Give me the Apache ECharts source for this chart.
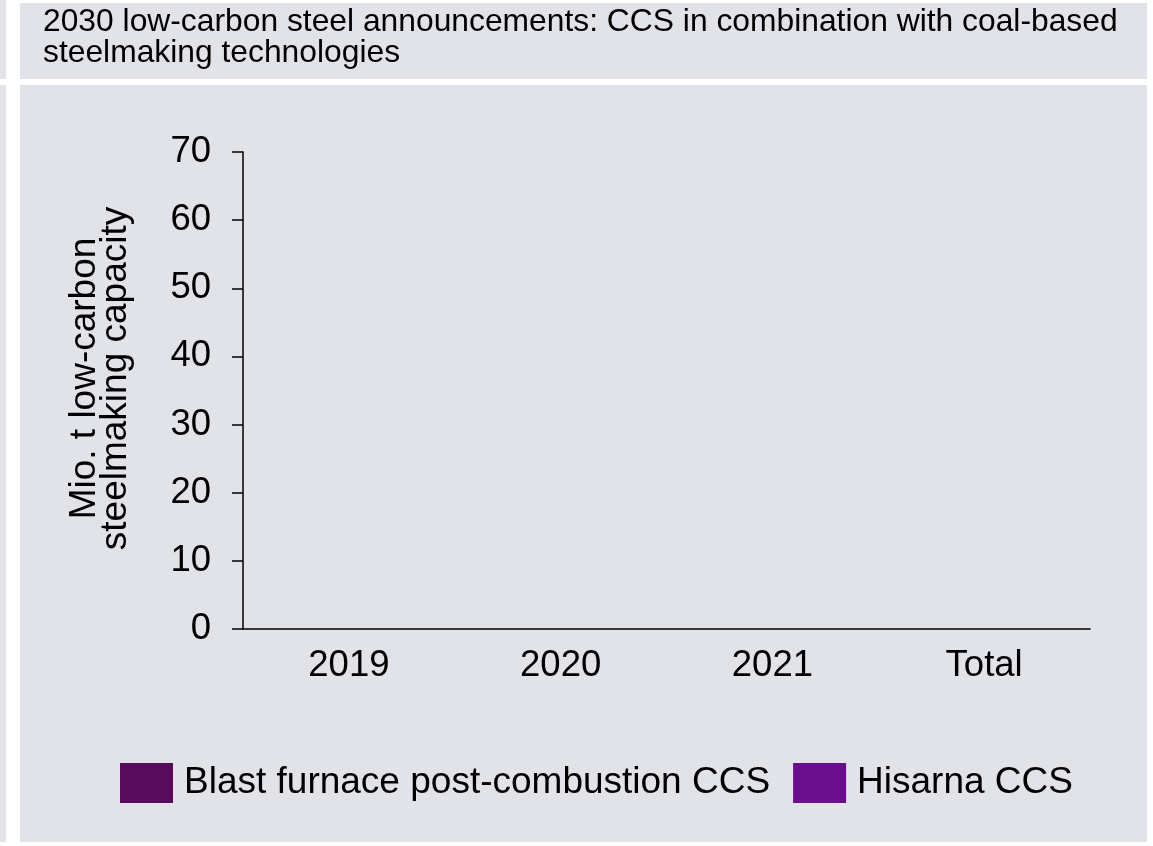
<!DOCTYPE html>
<html>
<head>
<meta charset="utf-8">
<script src="https://cdn.jsdelivr.net/npm/echarts@6/dist/echarts.min.js"></script>
<style>
html,body{margin:0;padding:0;background:#ffffff;}
#chart{width:1153px;height:846px;}
</style>
</head>
<body>
<div id="chart"></div>
<script>
const titleText = "2030 low-carbon steel announcements: CCS in combination with coal-based\nsteelmaking technologies";
const categories = ["2019", "2020", "2021", "Total"];
const seriesNames = ["Blast furnace post-combustion CCS", "Hisarna CCS"];
const blastFurnaceCCS = [0, 0, 0, 0];
const hisarnaCCS = [0, 0, 0, 0];
const yAxisName = "Mio. t low-carbon\nsteelmaking capacity";
const yMin = 0, yMax = 70, yInterval = 10;

const font = '"Liberation Sans", Arial, Helvetica, sans-serif';
const panel = '#e2e3e8';
const chart = echarts.init(document.getElementById('chart'));
chart.setOption({
  backgroundColor: '#ffffff',
  animation: false,
  graphic: [
    {type:'rect', z:-10, shape:{x:0,y:0,width:6,height:79}, style:{fill:panel}, silent:true},
    {type:'rect', z:-10, shape:{x:0,y:85,width:6,height:757}, style:{fill:panel}, silent:true},
    {type:'rect', z:-10, shape:{x:20,y:3,width:1127,height:76}, style:{fill:panel}, silent:true},
    {type:'rect', z:-10, shape:{x:20,y:85,width:1127,height:757}, style:{fill:panel}, silent:true}
  ],
  title: {
    text: titleText,
    left: 43, top: 7, padding: 0,
    textStyle: {fontFamily: font, fontSize: 31.8, fontWeight: 'normal', color: '#000', lineHeight: 31}
  },
  legend: {
    data: seriesNames,
    left: 120, top: 763, padding: 0,
    itemWidth: 53, itemHeight: 40, itemGap: 23,
    icon: 'rect',
    textStyle: {fontFamily: font, fontSize: 37, color: '#000', padding:[0,0,0,6]}
  },
  grid: {left: 243, right: 63, top: 152, bottom: 217, containLabel: false},
  xAxis: {
    type: 'category',
    data: categories,
    axisLine: {lineStyle: {color: '#000', width: 1.5}},
    axisTick: {show: false},
    axisLabel: {fontFamily: font, fontSize: 36.5, color: '#000', margin: 18}
  },
  yAxis: {
    type: 'value',
    min: yMin, max: yMax, interval: yInterval,
    name: yAxisName,
    nameLocation: 'middle',
    nameGap: 112,
    nameRotate: 90,
    nameTextStyle: {fontFamily: font, fontSize: 37, color: '#000', lineHeight: 31, padding: [0, 0, 0, 24]},
    axisLine: {show: true, lineStyle: {color: '#000', width: 1.5}},
    axisTick: {show: true, length: 11, lineStyle: {color: '#000', width: 1.5}},
    splitLine: {show: false},
    axisLabel: {fontFamily: font, fontSize: 36.5, color: '#000', margin: 32}
  },
  series: [
    {name: seriesNames[0], type: 'bar', stack: 'a', data: blastFurnaceCCS, itemStyle: {color: '#560c5b'}},
    {name: seriesNames[1], type: 'bar', stack: 'a', data: hisarnaCCS, itemStyle: {color: '#6b0e8e'}}
  ]
});
</script>
</body>
</html>
